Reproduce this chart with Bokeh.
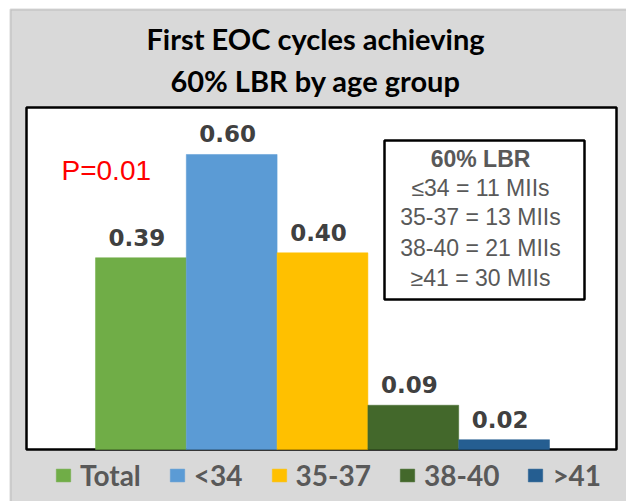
from bokeh.plotting import figure
from bokeh.models import ColumnDataSource, Label, LabelSet, Legend, LegendItem, BoxAnnotation, Range1d
from bokeh.core.properties import value
from bokeh.embed import file_html
from bokeh.resources import INLINE

# ---- data ----
groups = ["Total", "<34", "35-37", "38-40", ">41"]
rates = [0.39, 0.60, 0.40, 0.09, 0.02]
rate_labels = ["0.39", "0.60", "0.40", "0.09", "0.02"]
colors = ["#70AD47", "#5B9BD5", "#FFC000", "#43682B", "#255E91"]
title_lines = ["First EOC cycles achieving", "60% LBR by age group"]
p_value_text = "P=0.01"
box_title = "60% LBR"
box_lines = ["\u226434 = 11 MIIs", "35-37 = 13 MIIs", "38-40 = 21 MIIs", "\u226541 = 30 MIIs"]

# ---- layout helpers (pixel position -> data position) ----
XU, YU = 90.8, 491.7          # pixels per x unit / per y unit
X0 = -0.5 - 95 / XU           # x value at the left canvas edge
Y_BASE = 449                  # pixel row of y = 0
def xd(px): return px / XU + X0
def yd(py): return (Y_BASE - py) / YU

W, H = 626, 501
p = figure(width=W, height=H, output_backend="svg", toolbar_location=None,
           x_range=Range1d(xd(0), xd(W)), y_range=Range1d(yd(H), yd(0)),
           x_axis_location=None, y_axis_location=None, title=None,
           min_border=0)
p.grid.visible = False
p.border_fill_color = "white"
p.background_fill_color = "white"
p.outline_line_color = None

# grey panel with darker left/top edge
p.add_layout(BoxAnnotation(left=xd(10), right=xd(W + 40), top=yd(9), bottom=yd(H + 40),
                           fill_color="#D9D9D9", fill_alpha=1.0,
                           line_color="#808080", line_width=2, level="underlay"))
# white plot area with black frame
p.add_layout(BoxAnnotation(left=xd(26), right=xd(616), top=yd(107), bottom=yd(449),
                           fill_color="white", fill_alpha=1.0,
                           line_color="black", line_width=2.5, line_alpha=1.0,
                           level="underlay"))

src = ColumnDataSource(dict(x=list(range(len(groups))), top=rates, color=colors,
                            label=rate_labels, group=groups))
r = p.vbar(x="x", top="top", width=1.0, fill_color="color", line_color="color",
           line_width=0.5, source=src)

p.add_layout(LabelSet(x="x", y="top", text="label", source=src,
                      text_font=value("DejaVu Sans"), text_font_style="bold",
                      text_font_size=value("23px"), text_color="#404040",
                      text_align="center", text_baseline="alphabetic",
                      x_offset=-4, y_offset=12))

p.add_layout(Label(x=xd(61), y=yd(170), text=p_value_text, text_font="Liberation Sans",
                   text_font_size="28px", text_color="#FF0000", text_baseline="middle"))

p.add_layout(BoxAnnotation(left=xd(384), right=xd(584), top=yd(140), bottom=yd(299),
                           fill_color="white", fill_alpha=1.0,
                           line_color="black", line_width=2.5, line_alpha=1.0))
box_rows = [158, 187, 216, 247, 277]
for i, t in enumerate([box_title] + box_lines):
    p.add_layout(Label(x=xd(480), y=yd(box_rows[i]), text=t, text_font="Liberation Sans",
                       text_font_style="bold" if i == 0 else "normal",
                       text_font_size="23px", text_color="#595959",
                       text_align="center", text_baseline="middle"))

for t, row in zip(title_lines, [38, 80]):
    p.add_layout(Label(x=xd(315), y=yd(row), text=t,
                       text_font="Lato", text_font_style="bold", text_font_size="29px",
                       text_color="#000000", text_align="center", text_baseline="middle"))

legend = Legend(items=[LegendItem(label=g, renderers=[r], index=i) for i, g in enumerate(groups)],
                orientation="horizontal", location=(54, 9),
                glyph_width=18, glyph_height=16, label_standoff=8, spacing=27,
                padding=0, margin=0,
                label_text_font="Lato", label_text_font_style="bold",
                label_text_font_size="28px", label_text_color="#595959",
                background_fill_alpha=0, border_line_alpha=0)
p.add_layout(legend, "center")

open("out.html", "w").write(file_html(p, INLINE))
